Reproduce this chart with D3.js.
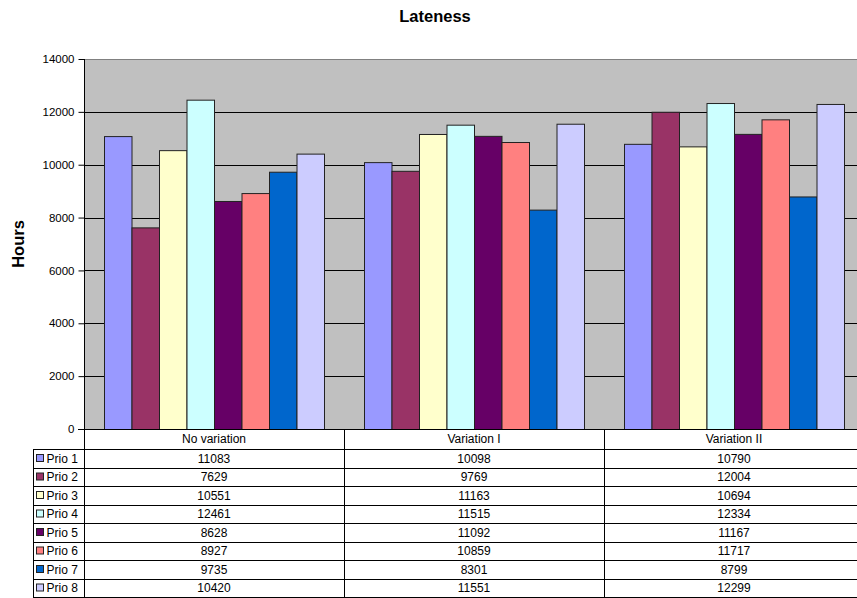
<!DOCTYPE html>
<html>
<head>
<meta charset="utf-8">
<script src="https://cdn.jsdelivr.net/npm/d3@7"></script>
<style>
  html, body { margin: 0; padding: 0; background: #fff; overflow: hidden; }
  svg { display: block; font-family: "Liberation Sans", Arial, sans-serif; }
</style>
</head>
<body>
<svg id="chart" width="857" height="598"></svg>
<script>
// Lateness per priority class for each variation scenario
const categories = ["No variation", "Variation I", "Variation II"];
const seriesNames = ["Prio 1", "Prio 2", "Prio 3", "Prio 4", "Prio 5", "Prio 6", "Prio 7", "Prio 8"];
const prio1 = [11083, 10098, 10790];
const prio2 = [7629, 9769, 12004];
const prio3 = [10551, 11163, 10694];
const prio4 = [12461, 11515, 12334];
const prio5 = [8628, 11092, 11167];
const prio6 = [8927, 10859, 11717];
const prio7 = [9735, 8301, 8799];
const prio8 = [10420, 11551, 12299];
const seriesValues = [prio1, prio2, prio3, prio4, prio5, prio6, prio7, prio8];
const seriesColors = ["#9999FF", "#993366", "#FFFFCC", "#CCFFFF", "#660066", "#FF8080", "#0066CC", "#CCCCFF"];
const yTicks = [0, 2000, 4000, 6000, 8000, 10000, 12000, 14000];

const svg = d3.select("#chart");
const W = 857;

// Plot frame
const plot = { left: 84, right: 864, top: 59, bottom: 429 };

const x = d3.scaleBand().domain(categories).range([plot.left, plot.right]).paddingInner(0).paddingOuter(0);
const xInner = d3.scaleBand().domain(seriesNames).range([0, x.bandwidth()]).paddingOuter(20 / 27.5).paddingInner(0);
const y = d3.scaleLinear().domain([0, 14000]).range([plot.bottom, plot.top]);

// Title
svg.append("text")
  .attr("x", 435).attr("y", 22)
  .attr("text-anchor", "middle")
  .style("font-size", "16.5px").style("font-weight", "bold")
  .text("Lateness");

// Y axis title
svg.append("text")
  .attr("transform", "translate(24,244) rotate(-90)")
  .attr("text-anchor", "middle")
  .style("font-size", "16.5px").style("font-weight", "bold")
  .text("Hours");

// Plot background
svg.append("rect")
  .attr("x", plot.left).attr("y", plot.top)
  .attr("width", plot.right - plot.left).attr("height", plot.bottom - plot.top)
  .attr("fill", "#C0C0C0");

// Horizontal grid lines
svg.append("g").selectAll("line")
  .data(yTicks.filter(t => t > 0 && t < 14000))
  .join("line")
  .attr("x1", plot.left).attr("x2", plot.right)
  .attr("y1", d => Math.round(y(d)) + 0.5).attr("y2", d => Math.round(y(d)) + 0.5)
  .attr("stroke", "#000").attr("stroke-width", 1);

// Top border of the plot area
svg.append("line")
  .attr("x1", plot.left).attr("x2", plot.right)
  .attr("y1", plot.top + 0.5).attr("y2", plot.top + 0.5)
  .attr("stroke", "#808080");

// Bars
const groups = svg.append("g").selectAll("g")
  .data(categories)
  .join("g")
  .attr("transform", d => `translate(${x(d)},0)`);

groups.selectAll("rect")
  .data((c, ci) => seriesNames.map((s, si) => ({ s, si, v: seriesValues[si][ci] })))
  .join("rect")
  .attr("x", d => xInner(d.s) + 0.5)
  .attr("y", d => y(d.v) + 0.5)
  .attr("width", xInner.bandwidth())
  .attr("height", d => y(0) - y(d.v))
  .attr("fill", d => seriesColors[d.si])
  .attr("stroke", "#222").attr("stroke-width", 1);

// Y axis
const yAxis = d3.axisLeft(y).tickValues(yTicks).tickSize(6).tickPadding(4).tickFormat(d3.format("d"));
const ga = svg.append("g")
  .attr("transform", `translate(${plot.left + 0.5},0)`)
  .call(yAxis);
ga.select(".domain").remove();
ga.selectAll("line").attr("stroke", "#000");
ga.selectAll("text")
  .style("font-size", "11.5px")
  .style("font-family", "'Liberation Sans', Arial, sans-serif")
  .attr("fill", "#000");

// Data table below the plot
const table = { left: 33, top: 429, headerBottom: 449, rowH: 18.5 };
const tableBottom = table.headerBottom + table.rowH * seriesNames.length;
const tg = svg.append("g");

// Vertical axis line running from plot top through the table
tg.append("line")
  .attr("x1", plot.left + 0.5).attr("x2", plot.left + 0.5)
  .attr("y1", plot.top).attr("y2", tableBottom)
  .attr("stroke", "#000");

// Column separators
tg.selectAll("line.col")
  .data(categories.slice(1))
  .join("line")
  .attr("class", "col")
  .attr("x1", d => Math.round(x(d)) + 0.5).attr("x2", d => Math.round(x(d)) + 0.5)
  .attr("y1", table.top).attr("y2", tableBottom)
  .attr("stroke", "#000");

// Left edge of legend column
tg.append("line")
  .attr("x1", table.left + 0.5).attr("x2", table.left + 0.5)
  .attr("y1", table.headerBottom).attr("y2", tableBottom)
  .attr("stroke", "#000");

// Horizontal lines: header bottom and each row bottom
const rowLines = d3.range(seriesNames.length + 1).map(i => table.headerBottom + i * table.rowH);
tg.selectAll("line.row")
  .data(rowLines)
  .join("line")
  .attr("class", "row")
  .attr("x1", table.left).attr("x2", W)
  .attr("y1", d => Math.round(d) + 0.5).attr("y2", d => Math.round(d) + 0.5)
  .attr("stroke", "#000");

// Top line of the table (x axis baseline)
tg.append("line")
  .attr("x1", plot.left - 6).attr("x2", W)
  .attr("y1", plot.bottom + 0.5).attr("y2", plot.bottom + 0.5)
  .attr("stroke", "#000");

// Header labels
tg.selectAll("text.head")
  .data(categories)
  .join("text")
  .attr("class", "head")
  .attr("x", d => x(d) + x.bandwidth() / 2)
  .attr("y", table.top + 14)
  .attr("text-anchor", "middle")
  .style("font-size", "12px")
  .text(d => d);

// Row legend: swatch + name
const rows = tg.selectAll("g.rowlab")
  .data(seriesNames)
  .join("g")
  .attr("class", "rowlab")
  .attr("transform", (d, i) => `translate(0,${table.headerBottom + i * table.rowH})`);

rows.append("rect")
  .attr("x", 36.5).attr("y", 5.5)
  .attr("width", 7).attr("height", 7)
  .attr("fill", (d, i) => seriesColors[i])
  .attr("stroke", "#222");

rows.append("text")
  .attr("x", 46.5).attr("y", 13.8)
  .style("font-size", "12px")
  .text(d => d);

// Row values
rows.each(function (name, si) {
  d3.select(this).selectAll("text.val")
    .data(categories.map((c, ci) => ({ c, v: seriesValues[si][ci] })))
    .join("text")
    .attr("class", "val")
    .attr("x", d => x(d.c) + x.bandwidth() / 2)
    .attr("y", 13.8)
    .attr("text-anchor", "middle")
    .style("font-size", "12px")
    .text(d => d.v);
});
</script>
</body>
</html>
